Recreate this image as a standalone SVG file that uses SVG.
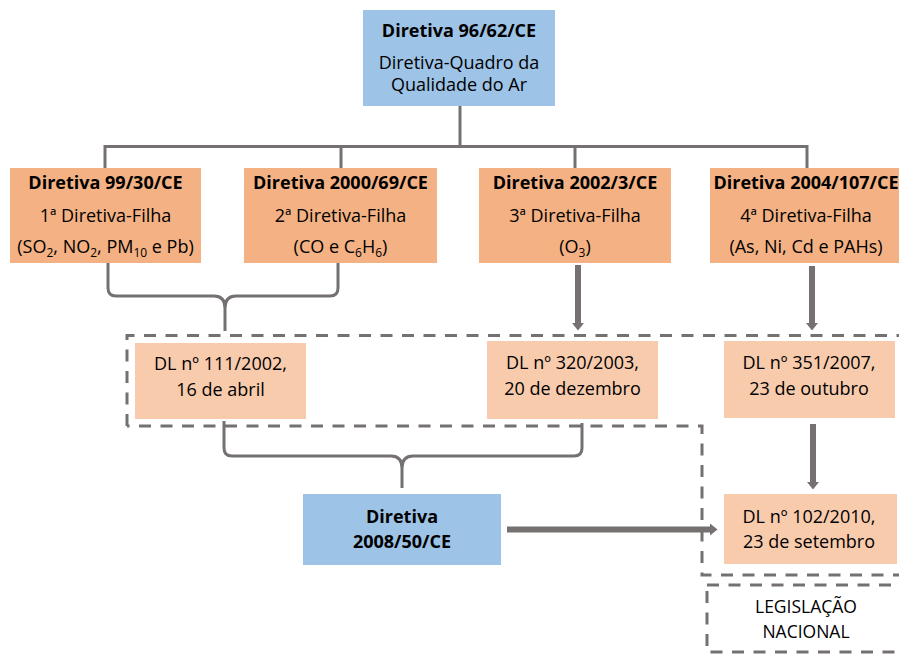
<svg xmlns="http://www.w3.org/2000/svg" width="899" height="655" viewBox="0 0 899 655">
<style>
text{font-family:"Open Sans","Liberation Sans",sans-serif;font-size:18px;fill:#000;text-anchor:middle}
.b{font-weight:bold}
.sub{font-size:12px}
.blue{fill:#9dc3e6}
.org{fill:#f4b183}
.lt{fill:#f8cbad}
.ln{fill:none;stroke:#767171;stroke-width:3}
.ar{fill:none;stroke:#767171;stroke-width:6}
.dash{fill:none;stroke:#767171;stroke-width:3;stroke-dasharray:12 9.5}
</style>
<defs>
<marker id="ah" markerUnits="userSpaceOnUse" markerWidth="8" markerHeight="12" refX="0" refY="6" orient="auto" viewBox="0 0 8 12">
<path d="M0,0 L7.5,6 L0,12 z" fill="#767171"/>
</marker>
</defs>

<g id="connectors">
<path class="ln" d="M460,106 V146.5 M105,146.5 H807 M105,145 V168 M341,145 V168 M575,145 V168 M807,145 V168"/>
<path class="ln" d="M108,263 V288 Q108,296 116,296 H214 Q225,296 225,308 V331 M338,263 V288 Q338,296 330,296 H236 Q225,296 225,308"/>
<path class="ln" d="M224,421 V448 Q224,456 232,456 H391 Q402,456 402,468 V488 M582,423 V448 Q582,456 574,456 H413 Q402,456 402,468"/>
<line class="ar" x1="578" y1="265" x2="578" y2="323" marker-end="url(#ah)"/>
<line class="ar" x1="812" y1="266" x2="812" y2="323" marker-end="url(#ah)"/>
<line class="ar" x1="813" y1="424" x2="813" y2="482" marker-end="url(#ah)"/>
<line class="ar" x1="507" y1="529.5" x2="710" y2="529.5" marker-end="url(#ah)"/>
</g>

<g id="grupo-dl">
<path class="dash" d="M127,426 V335.5 H905 M905,575 H702 V426 H127"/>
</g>

<g id="n-9662">
<rect class="blue" x="363" y="10" width="192" height="96"/>
<text class="b" x="459" y="37">Diretiva 96/62/CE</text>
<text x="459" y="69">Diretiva-Quadro da</text>
<text x="459" y="91">Qualidade do Ar</text>
</g>

<g id="n-9930">
<rect class="org" x="10" y="168" width="191" height="95"/>
<text class="b" x="105.5" y="189">Diretiva 99/30/CE</text>
<text x="105.5" y="221.5">1ª Diretiva-Filha</text>
<text x="105.5" y="253">(SO<tspan class="sub" dy="4">2</tspan><tspan dy="-4">, NO</tspan><tspan class="sub" dy="4">2</tspan><tspan dy="-4">, PM</tspan><tspan class="sub" dy="4">10</tspan><tspan dy="-4"> e Pb)</tspan></text>
</g>

<g id="n-200069">
<rect class="org" x="244" y="168" width="193" height="95"/>
<text class="b" x="340.5" y="189">Diretiva 2000/69/CE</text>
<text x="340.5" y="221.5">2ª Diretiva-Filha</text>
<text x="340.5" y="253">(CO e C<tspan class="sub" dy="4">6</tspan><tspan dy="-4">H</tspan><tspan class="sub" dy="4">6</tspan><tspan dy="-4">)</tspan></text>
</g>

<g id="n-20023">
<rect class="org" x="479" y="168" width="192" height="95"/>
<text class="b" x="575" y="189">Diretiva 2002/3/CE</text>
<text x="575" y="221.5">3ª Diretiva-Filha</text>
<text x="575" y="253">(O<tspan class="sub" dy="4">3</tspan><tspan dy="-4">)</tspan></text>
</g>

<g id="n-2004107">
<rect class="org" x="710" y="168" width="192" height="95"/>
<text class="b" x="806" y="189">Diretiva 2004/107/CE</text>
<text x="806" y="221.5">4ª Diretiva-Filha</text>
<text x="806" y="253">(As, Ni, Cd e PAHs)</text>
</g>

<g id="n-dl111">
<rect class="lt" x="135" y="343" width="171" height="76"/>
<text x="220.5" y="370">DL nº 111/2002,</text>
<text x="220.5" y="396">16 de abril</text>
</g>

<g id="n-dl320">
<rect class="lt" x="487" y="341" width="171" height="78"/>
<text x="572.5" y="369">DL nº 320/2003,</text>
<text x="572.5" y="395">20 de dezembro</text>
</g>

<g id="n-dl351">
<rect class="lt" x="724" y="341" width="171" height="77"/>
<text x="809" y="369">DL nº 351/2007,</text>
<text x="809" y="395">23 de outubro</text>
</g>

<g id="n-200850">
<rect class="blue" x="303" y="494" width="198" height="71"/>
<text class="b" x="402" y="523">Diretiva</text>
<text class="b" x="402" y="548">2008/50/CE</text>
</g>

<g id="n-dl102">
<rect class="lt" x="724" y="494" width="173" height="70"/>
<text x="809" y="522.5">DL nº 102/2010,</text>
<text x="809" y="548">23 de setembro</text>
</g>

<g id="n-legislacao">
<rect class="dash" x="707" y="585" width="200" height="67"/>
<text x="806" y="613" style="font-size:17.5px">LEGISLAÇÃO</text>
<text x="806" y="638" style="font-size:17.5px">NACIONAL</text>
</g>
</svg>
